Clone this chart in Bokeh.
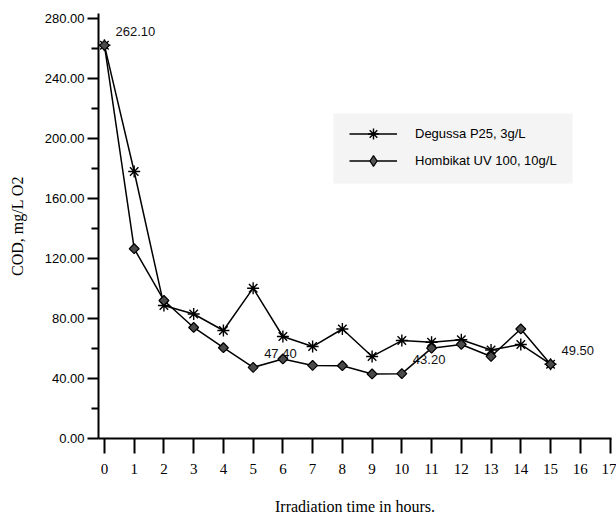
import numpy as np
from bokeh.plotting import figure
from bokeh.models import (ColumnDataSource, FixedTicker, PrintfTickFormatter, Range1d,
                          Legend, LegendItem, BoxAnnotation)
from bokeh.core.properties import value
from bokeh.embed import file_html
from bokeh.resources import INLINE

# ---- data ----
hours = [0, 1, 2, 3, 4, 5, 6, 7, 8, 9, 10, 11, 12, 13, 14, 15]
degussa = [262.1, 178.0, 88.7, 83.0, 72.0, 100.2, 68.0, 61.3, 73.0, 54.7, 65.3, 64.2, 65.8, 59.0, 62.7, 49.5]
hombikat = [262.1, 126.5, 92.0, 74.0, 60.5, 47.4, 53.0, 48.7, 48.5, 43.0, 43.2, 60.2, 62.7, 54.7, 73.0, 49.5]
series_names = ["Degussa P25, 3g/L", "Hombikat UV 100, 10g/L"]
x_ticks = list(range(0, 18))
y_ticks = [0, 40, 80, 120, 160, 200, 240, 280]
y_minor = [20, 60, 100, 140, 180, 220, 260]
note_x = [0, 5, 10, 15]
note_y = [262.1, 47.4, 43.2, 49.5]
note_text = ["262.10", "47.40", "43.20", "49.50"]

p = figure(output_backend="svg", toolbar_location=None,
           frame_width=513, frame_height=425,
           min_border_left=98, min_border_right=5, min_border_top=13, min_border_bottom=79,
           x_range=Range1d(-0.2, 17.05), y_range=Range1d(0, 283.3),
           background_fill_color="white", border_fill_color="white")
p.outline_line_color = None
p.xgrid.visible = False
p.ygrid.visible = False

# faint legend panel (screen units, relative to the frame)
p.add_layout(BoxAnnotation(left=235, right=474, bottom=255, top=325,
                           left_units="screen", right_units="screen",
                           bottom_units="screen", top_units="screen",
                           fill_color="#f4f4f4", fill_alpha=1.0, line_color=None,
                           level="underlay", editable=False))

src = ColumnDataSource(dict(x=hours, d=degussa, h=hombikat))

l1 = p.line("x", "d", source=src, line_color="black", line_width=1.5)
p.scatter("x", "d", source=src, marker="asterisk", size=12, line_color="black", line_width=1.4)
l2 = p.line("x", "h", source=src, line_color="black", line_width=1.5)
p.scatter("x", "h", source=src, marker="square", angle=np.pi / 4, size=7,
          fill_color="#4a4a4a", line_color="black", line_width=1.2)

# legend-only markers; muted so they are invisible in the plot
gm1 = p.scatter("x", "d", source=src, marker="asterisk", size=17,
                line_color="black", line_width=1.4, muted_alpha=0.0)
gm2 = p.scatter("x", "h", source=src, marker="diamond", size=17,
                fill_color="#555555", line_color="black", line_width=1.2, muted_alpha=0.0)
gm1.muted = True
gm2.muted = True

nsrc = ColumnDataSource(dict(x=note_x, y=note_y, t=note_text))
p.text("x", "y", text="t", source=nsrc, x_offset=11, y_offset=-14,
       text_align="left", text_baseline="middle",
       text_font=value("Liberation Sans"), text_font_size="13px", text_color="#111111")

# axes
xa = p.xaxis[0]
xa.ticker = FixedTicker(ticks=x_ticks, minor_ticks=[])
xa.axis_line_width = 2
xa.major_tick_line_width = 2
xa.major_tick_out = 15
xa.major_tick_in = 0
xa.minor_tick_out = 0
xa.major_label_standoff = 10
xa.major_label_text_font = "Liberation Serif"
xa.major_label_text_font_size = "15px"
xa.major_label_text_color = "black"
xa.axis_label = "Irradiation time in hours."
xa.axis_label_text_font = "Liberation Serif"
xa.axis_label_text_font_size = "16px"
xa.axis_label_text_font_style = "normal"
xa.axis_label_text_color = "black"
xa.axis_label_standoff = 21

ya = p.yaxis[0]
ya.ticker = FixedTicker(ticks=y_ticks, minor_ticks=y_minor)
ya.formatter = PrintfTickFormatter(format="%.2f")
ya.axis_line_width = 2
ya.major_tick_line_width = 2
ya.minor_tick_line_width = 2
ya.major_tick_out = 11
ya.major_tick_in = 0
ya.minor_tick_out = 7
ya.minor_tick_in = 0
ya.major_label_standoff = 3
ya.major_label_text_font = "Liberation Sans"
ya.major_label_text_font_size = "13px"
ya.major_label_text_color = "black"
ya.axis_label = "COD, mg/L O2"
ya.axis_label_text_font = "Liberation Serif"
ya.axis_label_text_font_size = "16px"
ya.axis_label_text_font_style = "normal"
ya.axis_label_text_color = "black"
ya.axis_label_standoff = 16

legend = Legend(items=[LegendItem(label=series_names[0], renderers=[l1, gm1]),
                       LegendItem(label=series_names[1], renderers=[l2, gm2])],
                location=(251, 264), orientation="vertical",
                background_fill_alpha=0.0, border_line_color=None,
                padding=0, spacing=0,
                glyph_width=48, glyph_height=27, label_standoff=18,
                label_text_font="Liberation Sans", label_text_font_size="13px",
                label_text_color="black", margin=0)
p.add_layout(legend, "center")

open("out.html", "w").write(file_html(p, INLINE))
